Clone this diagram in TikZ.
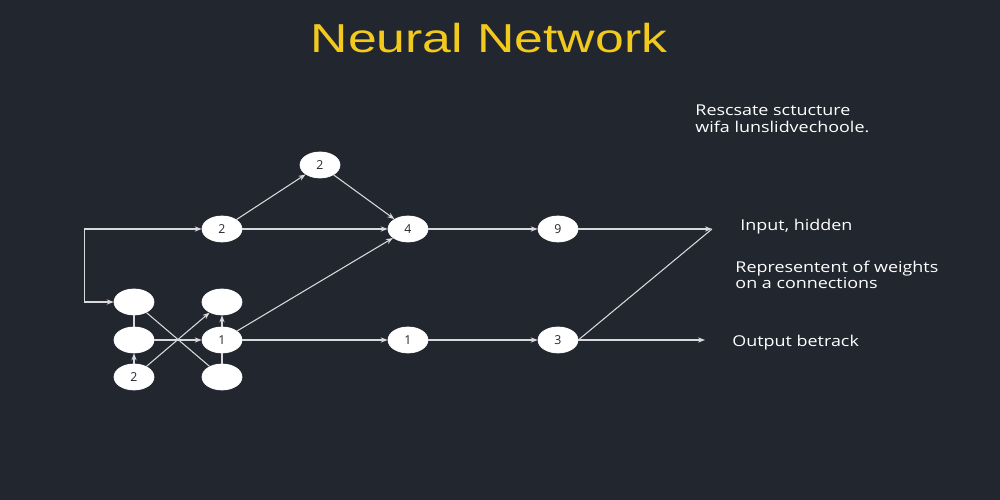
\documentclass[tikz,border=0pt]{standalone}
\usepackage{fontspec}
\setmainfont{Open Sans}
\newfontfamily\titlefont{Liberation Sans}
\usepackage{xcolor}
\usepackage{tikz}
\usetikzlibrary{shapes.geometric,arrows.meta,positioning,calc}
\definecolor{bgdark}{RGB}{34, 38, 47}
\definecolor{titleyellow}{RGB}{242, 202, 30}
\definecolor{edgegray}{RGB}{218, 218, 222}

\tikzset{
    neuron/.style={ellipse, fill=white, draw=white, minimum width=0.8cm, minimum height=0.52cm, inner sep=0pt, font=\fontsize{7}{8}\selectfont, text=bgdark},
    wire/.style={draw=edgegray, line width=0.6pt},
    lbl/.style={anchor=west, align=left, inner sep=0pt, text=white, font=\fontsize{8.5}{9.5}\selectfont, xscale=1.2}
}

\begin{document}
\begin{tikzpicture}[>={Stealth[length=4pt,width=3pt]}]
        \useasboundingbox (0,0) rectangle (20,10);
        \fill[bgdark] (0,0) rectangle (20,10);

        % title
        \node[font=\titlefont\fontsize{23}{27}\selectfont, text=titleyellow, xscale=1.28] (title) at (9.78, 9.24) {Neural Network};

        % left block of small neurons
        \foreach \name/\x/\y/\lab in {nA/2.68/3.96/, nB/2.68/3.2/, nC/2.68/2.46/2, nD/4.44/3.96/, nE/4.44/3.2/1, nF/4.44/2.46/} {
            \node[neuron] (\name) at (\x, \y) {\lab};
        }

        % upper and lower rows
        \node[neuron] (midtwo) at (4.44, 5.42) {2};
        \node[neuron] (toptwo) at (6.4, 6.7) {2};
        \node[neuron] (nfour) at (8.16, 5.42) {4};
        \node[neuron] (nnine) at (11.16, 5.42) {9};
        \node[neuron] (none) at (8.16, 3.2) {1};
        \node[neuron] (nthree) at (11.16, 3.2) {3};

        \coordinate (join) at (14.24, 5.42);
        \coordinate (outend) at (14.1, 3.2);

        % connections
        \draw[wire, <->] (nA.west) -- ++(-0.58,0) |- (midtwo.west);
        \draw[wire] (nA) -- (nB);
        \draw[wire, ->] (nC) -- (nB);
        \draw[wire, ->] (nB) -- (nE);
        \draw[wire] (nA) -- (nF);
        \draw[wire, ->] (nC) -- (nD);
        \draw[wire, ->] (nE) -- (nD);
        \draw[wire] (nE) -- (nF);
        \draw[wire, ->] (nE) -- (nfour);
        \draw[wire, ->] (nE) -- (none);
        \draw[wire, ->] (midtwo) -- (toptwo);
        \draw[wire, ->] (toptwo) -- (nfour);
        \draw[wire, ->] (midtwo) -- (nfour);
        \draw[wire, ->] (nfour) -- (nnine);
        \draw[wire, ->] (none) -- (nthree);
        \draw[wire, ->] (nnine) -- (join);
        \draw[wire] (nthree.east) -- (join);
        \draw[wire, ->] (nthree.east) -- (outend);

        % side notes
        \node[lbl] (note) at (13.9, 7.62) {Rescsate sctucture\\wifa lunslidvechoole.};
        \node[lbl] (inhid) at (14.8, 5.46) {Input, hidden};
        \node[lbl] (weights) at (14.7, 4.5) {Representent of weights\\on a connections};
        \node[lbl] (outlbl) at (14.64, 3.14) {Output betrack};
\end{tikzpicture}
\end{document}
